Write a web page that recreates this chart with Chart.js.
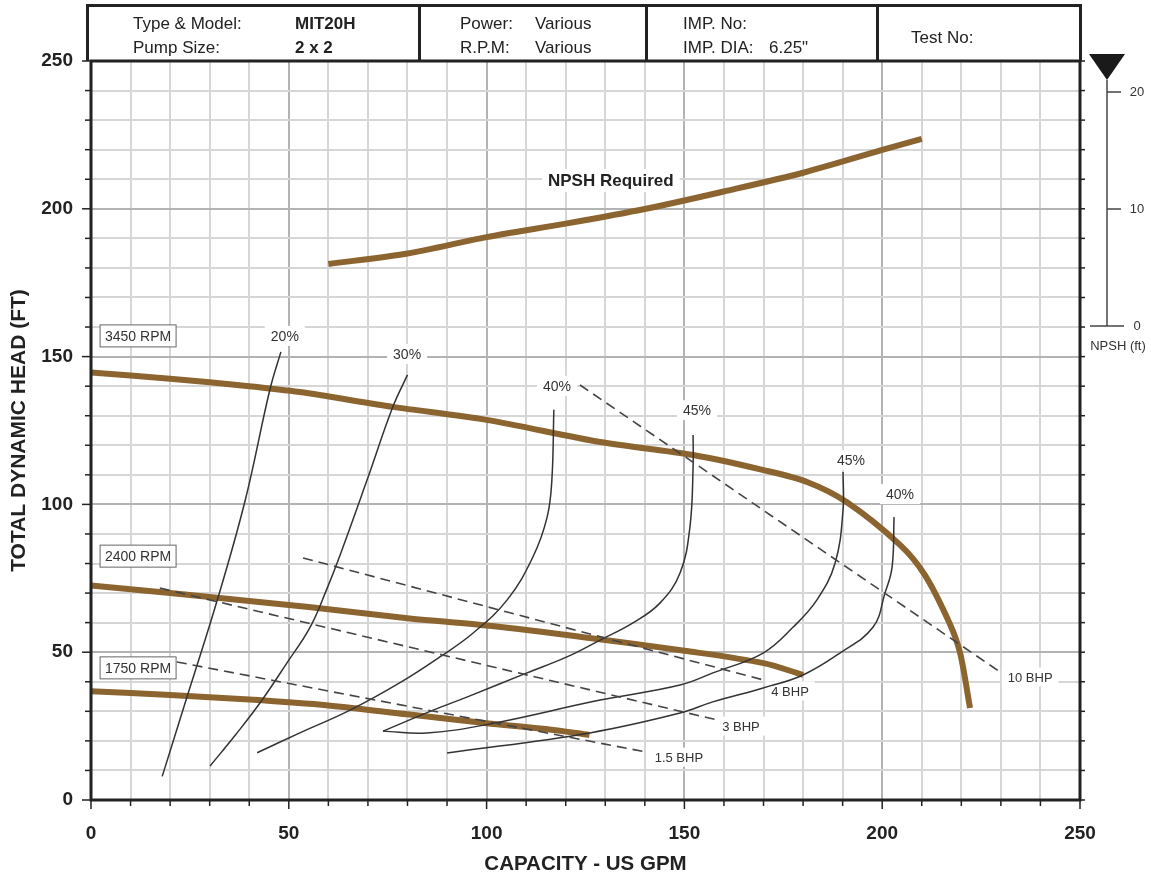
<!DOCTYPE html>
<html>
<head>
<meta charset="utf-8">
<title>MIT20H pump performance curve</title>
<script src="https://cdn.jsdelivr.net/npm/chart.js@4.4.1/dist/chart.umd.min.js"></script>
<style>
  body { margin: 0; background: #fff; font-family: "Liberation Sans", Arial, sans-serif; }
  #wrap { position: relative; width: 1151px; height: 882px; }
  #pumpChart { position: absolute; left: 0; top: 0; }
  #header { position: absolute; left: 86px; top: 4px; width: 996px; height: 57px; box-sizing: border-box;
            border: 3px solid #222; border-bottom: none; color: #222; font-size: 17px; }
  #header span { position: absolute; line-height: 18px; white-space: nowrap; }
  #header .sep { position: absolute; top: 0; width: 3px; height: 54px; background: #222; }
  #header b { font-weight: bold; }
</style>
</head>
<body>
<div id="wrap">
  <canvas id="pumpChart" width="1151" height="882"></canvas>
  <div id="header">
    <span style="left:44px;top:8px">Type &amp; Model:</span>
    <span style="left:206px;top:8px"><b>MIT20H</b></span>
    <span style="left:44px;top:32px">Pump Size:</span>
    <span style="left:206px;top:32px"><b>2 x 2</b></span>
    <div class="sep" style="left:329px"></div>
    <span style="left:371px;top:8px">Power:</span>
    <span style="left:446px;top:8px">Various</span>
    <span style="left:371px;top:32px">R.P.M:</span>
    <span style="left:446px;top:32px">Various</span>
    <div class="sep" style="left:556px"></div>
    <span style="left:594px;top:8px">IMP. No:</span>
    <span style="left:594px;top:32px">IMP. DIA:</span>
    <span style="left:680px;top:32px">6.25"</span>
    <div class="sep" style="left:787px"></div>
    <span style="left:822px;top:22px">Test No:</span>
  </div>
</div>
<script>
// head / capacity curves (US GPM, ft)
const gpm3450 = [0, 20, 40, 52.8, 76.3, 100, 128.7, 152.2, 170, 181, 191, 204.5, 210.8, 217, 219.7, 222.2];
const head3450 = [144.6, 142.5, 140, 138, 133, 128.6, 121.1, 116.7, 111.6, 107.6, 100.8, 86.3, 76.1, 59.9, 49.7, 31.1];
const gpm2400 = [0, 20, 35, 50, 60, 80, 100, 125, 150, 170, 180];
const head2400 = [72.6, 70, 68, 66, 64.5, 61.5, 59, 55, 50.5, 46.3, 42.3];
const gpm1750 = [0, 20, 40, 60, 80, 100, 115, 126];
const head1750 = [36.8, 35.5, 34, 32, 29, 26, 24, 22];

// efficiency curves
const gpmEff20 = [18, 24.3, 32, 39, 45.2, 48];
const headEff20 = [8, 35, 68, 101.5, 138.7, 151.6];
const gpmEff30 = [30.1, 36.5, 42.7, 49.5, 55.4, 59.5, 63, 69.8, 76.3, 80];
const headEff30 = [11.5, 22, 32.8, 46.3, 58.5, 71, 83, 108.3, 133, 143.8];
const gpmEff40a = [42, 52.8, 65.5, 78, 88.2, 96.6, 105.2, 111.7, 115.3, 116.5, 117];
const headEff40a = [16, 22.7, 30.4, 39.6, 48.4, 56.5, 67.7, 82.2, 95.7, 108.3, 132];
const gpmEff45a = [73.8, 86.5, 95, 110.2, 120.3, 128.7, 137, 143.8, 148.9, 151.4, 152.2, 152.2];
const headEff45a = [23.3, 30.4, 34.8, 43, 48.4, 54.1, 59.9, 66.6, 76.8, 92.4, 112.7, 123.5];
const gpmEff45b = [73.8, 84.9, 100, 128.7, 148.9, 157.2, 169.9, 177.5, 183.5, 188.1, 190.1, 190.1];
const headEff45b = [23.3, 22.7, 25.5, 33.8, 38.9, 43, 49.7, 58.5, 67.7, 80.2, 98.1, 111];
const gpmEff40b = [90, 126.1, 148.9, 157.2, 169.9, 180, 189.3, 197.7, 200.7, 202.5, 203];
const headEff40b = [15.9, 22.7, 29.4, 33.2, 37.9, 42.3, 49.7, 58.5, 70, 78.8, 95.7];

// brake horsepower lines
const gpmBhp10 = [123.6, 229.8];
const headBhp10 = [140.4, 43.3];
const gpmBhp4 = [53.6, 170];
const headBhp4 = [81.9, 40.6];
const gpmBhp3 = [17.4, 158.2];
const headBhp3 = [71.7, 27.1];
const gpmBhp15 = [21.7, 140.5];
const headBhp15 = [46.7, 16.2];

// NPSH required (ft, right scale)
const gpmNpsh = [60, 80, 100, 120, 140, 160, 180, 200, 210];
const npshReq = [5.3, 6.2, 7.6, 8.75, 10, 11.5, 13.1, 15.05, 16];

const npshTicks = [0, 10, 20];
// where NPSH 0 sits on the head axis, and head-ft per NPSH-ft
const npshZeroAt = 160.35;
const npshPerHead = 3.958;

const notes = [
  { text: '3450 RPM', x: 11.9, y: 157, kind: 'box' },
  { text: '2400 RPM', x: 11.9, y: 82.5, kind: 'box' },
  { text: '1750 RPM', x: 11.9, y: 44.7, kind: 'box' },
  { text: '20%', x: 49, y: 157 },
  { text: '30%', x: 79.9, y: 150.9 },
  { text: '40%', x: 117.8, y: 140.1 },
  { text: '45%', x: 153.2, y: 131.9 },
  { text: '45%', x: 192.1, y: 115 },
  { text: '40%', x: 204.5, y: 103.5 },
  { text: '10 BHP', x: 237.4, y: 41.6, size: 13 },
  { text: '4 BHP', x: 176.7, y: 36.9, size: 13 },
  { text: '3 BHP', x: 164.3, y: 25, size: 13 },
  { text: '1.5 BHP', x: 148.6, y: 14.5, size: 13 },
  { text: 'NPSH Required', x: 131.4, y: 209.6, size: 17, bold: true }
];

const curve = (xs, ys) => xs.map((x, i) => ({ x: x, y: ys[i] }));

Chart.defaults.font.family = '"Liberation Sans", Arial, sans-serif';
const BROWN = '#8c6430';
const INK = '#333';

function headLine(xs, ys) {
  return { data: curve(xs, ys), borderColor: BROWN, borderWidth: 6, tension: 0.3, borderCapStyle: 'butt' };
}
function effLine(xs, ys) {
  return { data: curve(xs, ys), borderColor: INK, borderWidth: 1.5, tension: 0.4 };
}
function bhpLine(xs, ys) {
  return { data: curve(xs, ys), borderColor: '#444', borderWidth: 1.6, borderDash: [10, 6] };
}

function seg(ctx, x1, y1, x2, y2) {
  ctx.beginPath(); ctx.moveTo(x1, y1); ctx.lineTo(x2, y2); ctx.stroke();
}

// white label boxes, drawn under the curves
const notesPlugin = {
  id: 'notes',
  beforeDatasetsDraw(chart) {
    const { ctx, scales } = chart;
    ctx.save();
    ctx.textAlign = 'center';
    ctx.textBaseline = 'middle';
    notes.forEach(n => {
      const px = scales.x.getPixelForValue(n.x);
      const py = scales.y.getPixelForValue(n.y);
      const size = n.size || 14;
      ctx.font = (n.bold ? 'bold ' : '') + size + 'px "Liberation Sans", Arial, sans-serif';
      const w = ctx.measureText(n.text).width;
      ctx.fillStyle = '#fff';
      if (n.kind === 'box') {
        ctx.fillRect(px - 38, py - 11, 76, 22);
        ctx.strokeStyle = '#666';
        ctx.lineWidth = 1;
        ctx.strokeRect(px - 38, py - 11, 76, 22);
      } else {
        ctx.fillRect(px - w / 2 - 6, py - size / 2 - 3, w + 12, size + 6);
      }
      ctx.fillStyle = n.bold ? '#222' : '#333';
      ctx.fillText(n.text, px, py + 1);
    });
    ctx.restore();
  }
};

// frame, tick marks and the NPSH scale on the right
const framePlugin = {
  id: 'frame',
  afterDraw(chart) {
    const { ctx, chartArea: a, scales } = chart;
    ctx.save();
    ctx.strokeStyle = '#222';
    ctx.lineWidth = 1.5;
    for (let v = 0; v <= 250; v += 10) {
      const len = v % 50 === 0 ? 9 : 6;
      const px = scales.x.getPixelForValue(v);
      const py = scales.y.getPixelForValue(v);
      seg(ctx, a.left - len, py, a.left, py);
      seg(ctx, px, a.bottom, px, a.bottom + len);
      seg(ctx, a.right, py, a.right + 5, py);
    }
    ctx.lineWidth = 3;
    ctx.strokeRect(a.left, a.top, a.right - a.left, a.bottom - a.top);

    const y2 = scales.y2;
    const ax = a.right + 27;
    const yTop = y2.getPixelForValue(npshTicks[npshTicks.length - 1]) - 12;
    const yZero = y2.getPixelForValue(0);
    ctx.strokeStyle = '#444';
    ctx.lineWidth = 1.5;
    seg(ctx, ax, yTop, ax, yZero);
    ctx.fillStyle = '#333';
    ctx.font = '13px "Liberation Sans", Arial, sans-serif';
    ctx.textAlign = 'center';
    ctx.textBaseline = 'middle';
    npshTicks.forEach(t => {
      const py = y2.getPixelForValue(t);
      if (t === 0) seg(ctx, ax - 17, py, ax + 17, py);
      else seg(ctx, ax, py, ax + 14, py);
      ctx.fillText(String(t), ax + 30, py);
    });
    ctx.fillText('NPSH (ft)', ax + 11, yZero + 20);
    ctx.fillStyle = '#1a1a1a';
    ctx.beginPath();
    ctx.moveTo(ax - 18, yTop - 26);
    ctx.lineTo(ax + 18, yTop - 26);
    ctx.lineTo(ax, yTop);
    ctx.closePath();
    ctx.fill();
    ctx.restore();
  }
};

const gridColor = c => (c.tick && c.tick.value % 50 === 0) ? '#b3b3b3' : '#d6d6d6';

new Chart(document.getElementById('pumpChart'), {
  type: 'scatter',
  data: {
    datasets: [
      bhpLine(gpmBhp10, headBhp10),
      bhpLine(gpmBhp4, headBhp4),
      bhpLine(gpmBhp3, headBhp3),
      bhpLine(gpmBhp15, headBhp15),
      effLine(gpmEff20, headEff20),
      effLine(gpmEff30, headEff30),
      effLine(gpmEff40a, headEff40a),
      effLine(gpmEff45a, headEff45a),
      effLine(gpmEff45b, headEff45b),
      effLine(gpmEff40b, headEff40b),
      headLine(gpm1750, head1750),
      headLine(gpm2400, head2400),
      headLine(gpm3450, head3450),
      { data: curve(gpmNpsh, npshReq), yAxisID: 'y2', borderColor: BROWN, borderWidth: 6, tension: 0.3 }
    ]
  },
  options: {
    responsive: false,
    animation: false,
    showLine: true,
    elements: { point: { radius: 0, hoverRadius: 0 } },
    layout: { padding: { top: 61, right: 71, left: 0, bottom: 0 } },
    plugins: { legend: { display: false }, tooltip: { enabled: false } },
    scales: {
      x: {
        type: 'linear', min: 0, max: 250,
        ticks: { stepSize: 10, autoSkip: false, maxRotation: 0, padding: 22, color: '#222',
                 font: { size: 19, weight: 'bold' }, callback: v => v % 50 === 0 ? v : '' },
        grid: { color: gridColor, lineWidth: 2, drawTicks: false },
        border: { display: false },
        title: { display: true, text: 'CAPACITY - US GPM', color: '#222',
                 font: { size: 20.5, weight: 'bold' }, padding: { top: 0, bottom: 5 } },
        afterFit: s => { s.height = 82; }
      },
      y: {
        type: 'linear', min: 0, max: 250,
        ticks: { stepSize: 10, autoSkip: false, padding: 18, color: '#222',
                 font: { size: 19, weight: 'bold' }, callback: v => v % 50 === 0 ? v : '' },
        grid: { color: gridColor, lineWidth: 2, drawTicks: false },
        border: { display: false },
        title: { display: true, text: 'TOTAL DYNAMIC HEAD (FT)', color: '#222',
                 font: { size: 21, weight: 'bold' }, padding: { top: 7, bottom: 0 } },
        afterFit: s => { s.width = 91; }
      },
      y2: {
        type: 'linear', position: 'right', display: false,
        min: -npshZeroAt / npshPerHead,
        max: (250 - npshZeroAt) / npshPerHead
      }
    }
  },
  plugins: [notesPlugin, framePlugin]
});
</script>
</body>
</html>
